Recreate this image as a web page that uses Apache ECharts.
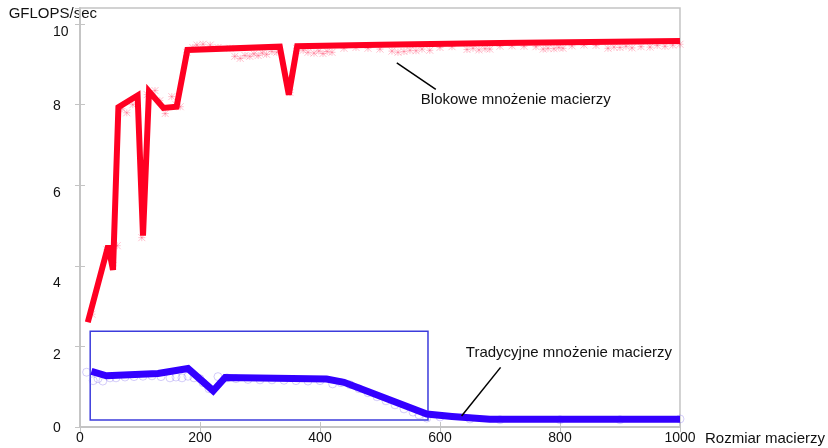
<!DOCTYPE html>
<html><head><meta charset="utf-8">
<script src="https://cdn.jsdelivr.net/npm/echarts@6/dist/echarts.min.js"></script>
<style>html,body{margin:0;padding:0;background:#fff}#c{width:828px;height:448px}</style>
</head><body><div id="c"></div>
<script>
// ---- data ----
const xTickLabels = [0, 200, 400, 600, 800, 1000];
const yTickLabels = [0, 2, 4, 6, 8, 10];
const xName = 'Rozmiar macierzy';
const yName = 'GFLOPS/sec';

const blokoweName = 'Blokowe mnożenie macierzy';
const blokoweX = [13, 47, 55, 64, 96, 105, 115, 139, 161, 179, 333, 348, 362, 500, 700, 1000];
const blokoweY = [2.6, 4.5, 3.9, 7.94, 8.23, 4.75, 8.33, 7.92, 7.95, 9.36, 9.44, 8.25, 9.45, 9.49, 9.53, 9.58];
const blokoweMarkX = [20, 45, 55, 62, 70, 78, 88, 103, 112, 125, 133, 142, 153, 160, 167, 178, 188, 195, 205, 217, 230, 250, 258, 267, 275, 283, 290, 297, 304, 311, 320, 328, 350, 361, 372, 380, 390, 398, 405, 412, 420, 440, 460, 480, 500, 520, 530, 540, 550, 560, 570, 583, 600, 620, 645, 655, 665, 675, 683, 700, 720, 740, 760, 772, 780, 790, 798, 805, 820, 840, 860, 880, 890, 900, 910, 920, 935, 950, 962, 975, 988, 1000];
const blokoweMarkY = [2.8, 4.4, 4.0, 4.5, 7.9, 7.8, 8.0, 4.7, 8.25, 8.35, 8.1, 7.78, 8.2, 8.0, 7.95, 9.3, 9.42, 9.48, 9.5, 9.48, 9.42, 9.4, 9.2, 9.15, 9.22, 9.2, 9.26, 9.22, 9.28, 9.25, 9.32, 9.3, 8.3, 9.4, 9.35, 9.3, 9.28, 9.33, 9.27, 9.32, 9.3, 9.4, 9.42, 9.4, 9.38, 9.33, 9.3, 9.32, 9.35, 9.34, 9.38, 9.35, 9.42, 9.44, 9.37, 9.4, 9.36, 9.39, 9.38, 9.45, 9.46, 9.45, 9.44, 9.38, 9.4, 9.39, 9.42, 9.4, 9.46, 9.48, 9.47, 9.4, 9.43, 9.42, 9.45, 9.41, 9.44, 9.43, 9.47, 9.45, 9.48, 9.5];

const tradName = 'Tradycyjne mnożenie macierzy';
const tradX = [19, 44, 130, 180, 222, 242, 411, 440, 578, 620, 683, 1000];
const tradY = [1.38, 1.27, 1.33, 1.45, 0.9, 1.23, 1.19, 1.11, 0.32, 0.26, 0.19, 0.19];
const tradMarkX = [11, 22, 30, 38, 50, 60, 75, 90, 105, 120, 135, 150, 160, 170, 180, 190, 200, 205, 215, 230, 245, 260, 280, 300, 320, 340, 360, 380, 400, 421, 435, 450, 465, 480, 495, 510, 525, 540, 555, 565, 578, 600, 650, 700, 800, 900, 1000];
const tradMarkY = [1.36, 1.15, 1.2, 1.14, 1.22, 1.22, 1.24, 1.25, 1.26, 1.27, 1.25, 1.22, 1.24, 1.22, 1.26, 1.22, 1.2, 1.1, 0.95, 1.25, 1.22, 1.2, 1.18, 1.17, 1.17, 1.16, 1.15, 1.14, 1.15, 1.07, 1.1, 1.05, 0.95, 0.85, 0.75, 0.65, 0.55, 0.45, 0.37, 0.3, 0.22, 0.25, 0.2, 0.18, 0.18, 0.18, 0.2];

// annotation anchors (data coordinates)
const boxCorners = [[17, 2.375], [580, 0.175]];
const blokowePointer = [[528, 9.04], [593, 8.38]];
const blokoweLabelAt = [568, 8.11];
const tradPointer = [[701, 1.48], [636, 0.275]];
const tradLabelAt = [643, 1.83];

// ---- chart ----
const zip = (xs, ys) => xs.map((x, i) => [x, ys[i]]);
const yLabelShift = {0: 1, 2: 9, 4: 17, 6: 8, 8: 1, 10: 8};
const rich = {};
yTickLabels.forEach(v => { rich['s' + v] = {fontSize: 14, fontFamily: 'Liberation Sans', color: '#111', padding: [2 * yLabelShift[v], 0, 0, 0]}; });

const frameColor = '#c4c4c4';
const chart = echarts.init(document.getElementById('c'), null, {renderer: 'canvas'});
chart.setOption({
  animation: false,
  backgroundColor: '#fff',
  textStyle: {fontFamily: 'Liberation Sans'},
  grid: {left: 80, right: 148, top: 8, bottom: 21, show: true, borderColor: frameColor, borderWidth: 1.5},
  xAxis: [{
    type: 'value', min: 0, max: 1000, interval: 200,
    name: xName, nameLocation: 'end', nameGap: 25,
    nameTextStyle: {fontSize: 15, color: '#111', align: 'left', verticalAlign: 'top', padding: [4, 0, 0, 0]},
    axisLine: {show: true, lineStyle: {color: frameColor, width: 1.5}},
    axisTick: {show: true, inside: true, length: 5, lineStyle: {color: frameColor}},
    axisLabel: {fontSize: 14, color: '#111', margin: 4,
      formatter: v => (xTickLabels.indexOf(v) >= 0 ? String(v) : '')},
    splitLine: {show: false}
  }, {
    type: 'value', position: 'top', min: 0, max: 1000, interval: 200,
    axisLine: {show: true, lineStyle: {color: frameColor, width: 1.5}},
    axisTick: {show: true, inside: true, length: 5, lineStyle: {color: frameColor}},
    axisLabel: {show: false}, splitLine: {show: false}
  }],
  yAxis: [{
    type: 'value', min: 0, max: 10.4, interval: 2,
    name: yName, nameLocation: 'end', nameGap: -6,
    nameTextStyle: {fontSize: 15, color: '#111', align: 'right', verticalAlign: 'middle', padding: [0, -17, 0, 0]},
    axisLine: {show: true, lineStyle: {color: frameColor, width: 1.5}},
    axisTick: {show: true, inside: true, length: 5, lineStyle: {color: frameColor}},
    axisLabel: {
      align: 'left', margin: 27, showMaxLabel: false,
      formatter: v => (yTickLabels.indexOf(v) >= 0 ? '{s' + v + '|' + v + '}' : ''),
      rich: rich
    },
    splitLine: {show: false}
  }, {
    type: 'value', position: 'right', min: 0, max: 10.4, interval: 2,
    axisLine: {show: true, lineStyle: {color: frameColor, width: 1.5}},
    axisTick: {show: true, inside: true, length: 5, lineStyle: {color: frameColor}},
    axisLabel: {show: false}, splitLine: {show: false}
  }],
  series: [
    {
      type: 'scatter', name: tradName + ' (pomiary)', data: zip(tradMarkX, tradMarkY),
      symbol: 'circle', symbolSize: 8,
      itemStyle: {color: 'rgba(0,0,0,0)', borderColor: 'rgba(120,100,235,0.4)', borderWidth: 1},
      z: 1
    },
    {
      type: 'scatter', name: blokoweName + ' (pomiary)', data: zip(blokoweMarkX, blokoweMarkY),
      symbol: 'path://M0,0L10,10M10,0L0,10M5,0L5,10M0,5L10,5', symbolSize: 7,
      itemStyle: {color: 'rgba(0,0,0,0)', borderColor: 'rgba(255,60,100,0.4)', borderWidth: 1},
      z: 1
    },
    {
      type: 'line', name: tradName, data: zip(tradX, tradY),
      showSymbol: false, symbol: 'none',
      lineStyle: {color: '#3300ff', width: 7, join: 'miter', miterLimit: 3},
      z: 3,
      markArea: {
        silent: true,
        itemStyle: {color: 'rgba(0,0,0,0)', borderColor: '#3c3cdc', borderWidth: 1.5},
        data: [[{coord: boxCorners[0]}, {coord: boxCorners[1]}]]
      },
      markLine: {
        silent: true, symbol: 'none', label: {show: false},
        lineStyle: {color: '#000', width: 1.5, type: 'solid'},
        data: [[{coord: tradPointer[0]}, {coord: tradPointer[1]}]]
      },
      markPoint: {
        silent: true, symbol: 'circle', symbolSize: 0,
        label: {show: true, position: 'right', distance: 0, formatter: tradName, fontSize: 15, color: '#111'},
        data: [{coord: tradLabelAt}]
      }
    },
    {
      type: 'line', name: blokoweName, data: zip(blokoweX, blokoweY),
      showSymbol: false, symbol: 'none',
      lineStyle: {color: '#ff0022', width: 6, join: 'miter', miterLimit: 3},
      z: 3,
      markLine: {
        silent: true, symbol: 'none', label: {show: false},
        lineStyle: {color: '#000', width: 1.5, type: 'solid'},
        data: [[{coord: blokowePointer[0]}, {coord: blokowePointer[1]}]]
      },
      markPoint: {
        silent: true, symbol: 'circle', symbolSize: 0,
        label: {show: true, position: 'right', distance: 0, formatter: blokoweName, fontSize: 15, color: '#111'},
        data: [{coord: blokoweLabelAt}]
      }
    }
  ]
});
</script>
</body></html>
